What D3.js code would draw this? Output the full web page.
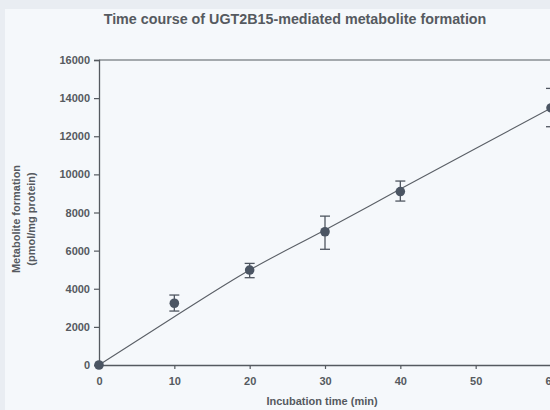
<!DOCTYPE html>
<html>
<head>
<meta charset="utf-8">
<script src="https://cdn.jsdelivr.net/npm/d3@7"></script>
<style>
html,body{margin:0;padding:0;background:#eef2f6;}
svg{display:block;}
</style>
</head>
<body>
<svg id="chart" width="550" height="410"></svg>
<script>
// Data
const times = [0, 10, 20, 30, 40, 60];
const meanValues = [0, 3240, 4980, 6990, 9100, 13490];
const errUpper = [0, 3670, 5330, 7810, 9650, 14510];
const errLower = [0, 2830, 4580, 6070, 8600, 12500];
const fitTimes = [0, 10, 20, 30, 40, 50, 60];
const fitValues = [0, 2530, 4980, 7080, 9230, 11360, 13480];
const xTicks = [0, 10, 20, 30, 40, 50, 60];
const yTicks = [0, 2000, 4000, 6000, 8000, 10000, 12000, 14000, 16000];
const titleText = "Time course of UGT2B15-mediated metabolite formation";
const xLabel = "Incubation time (min)";
const yLabel1 = "Metabolite formation";
const yLabel2 = "(pmol/mg protein)";

const svg = d3.select("#chart");
const W = 550, H = 410;
const font = "Arial, 'Liberation Sans', sans-serif";
const ink = "#555a60";

// background
svg.append("rect").attr("x",0).attr("y",0).attr("width",W).attr("height",H).attr("fill","#e9edf2");
svg.append("rect").attr("x",5).attr("y",9).attr("width",W-5).attr("height",H-9).attr("fill","#f5f8fb");

const x = d3.scaleLinear().domain([0,60]).range([99,551]);
const y = d3.scaleLinear().domain([0,16000]).range([365,60]);

// frame top
svg.append("line").attr("x1",x(0)).attr("x2",W).attr("y1",y(16000)).attr("y2",y(16000))
  .attr("stroke",ink).attr("stroke-width",1.2);

// axes
const yAxis = d3.axisLeft(y).tickValues(yTicks).tickSize(5).tickPadding(4).tickFormat(d3.format("d"));
const gy = svg.append("g").attr("transform",`translate(${x(0)},0)`).call(yAxis);
const xAxis = d3.axisBottom(x).tickValues(xTicks).tickSize(4).tickPadding(8).tickFormat(d3.format("d"));
const gx = svg.append("g").attr("transform",`translate(0,${y(0)})`).call(xAxis);
[gx, gy].forEach(g => {
  g.select(".domain").attr("stroke",ink).attr("stroke-width",1.3);
  g.selectAll(".tick line").attr("stroke",ink).attr("stroke-width",1.2);
  g.selectAll(".tick text").attr("fill",ink).attr("font-family",font)
    .attr("font-size","11px").attr("font-weight","bold");
});

// fit curve
const line = d3.line().x((d,i)=>x(fitTimes[i])).y(d=>y(d)).curve(d3.curveMonotoneX);
svg.append("path").datum(fitValues).attr("d",line).attr("fill","none")
  .attr("stroke","#5a5f66").attr("stroke-width",1.1);

// error bars
const eb = svg.append("g").attr("stroke","#4f5660").attr("stroke-width",1.3);
times.forEach((t,i) => {
  if (errUpper[i] === errLower[i]) return;
  const cx = x(t);
  eb.append("line").attr("x1",cx).attr("x2",cx).attr("y1",y(errUpper[i])).attr("y2",y(errLower[i]));
  eb.append("line").attr("x1",cx-5).attr("x2",cx+5).attr("y1",y(errUpper[i])).attr("y2",y(errUpper[i]));
  eb.append("line").attr("x1",cx-5).attr("x2",cx+5).attr("y1",y(errLower[i])).attr("y2",y(errLower[i]));
});

// points
svg.append("g").selectAll("circle").data(meanValues).join("circle")
  .attr("cx",(d,i)=>x(times[i])).attr("cy",d=>y(d)).attr("r",4.8)
  .attr("fill","#4b5563");

// title
svg.append("text").attr("x",295).attr("y",24).attr("text-anchor","middle")
  .attr("font-family",font).attr("font-size","14.3px").attr("font-weight","bold")
  .attr("fill",ink).text(titleText);

// x label
svg.append("text").attr("x",322).attr("y",405).attr("text-anchor","middle")
  .attr("font-family",font).attr("font-size","11px").attr("font-weight","bold")
  .attr("fill",ink).text(xLabel);

// y label
const yl = svg.append("text").attr("transform","translate(20,219) rotate(-90)")
  .attr("text-anchor","middle").attr("font-family",font).attr("font-size","11px")
  .attr("font-weight","bold").attr("fill",ink);
yl.append("tspan").attr("x",0).attr("dy",0).text(yLabel1);
yl.append("tspan").attr("x",0).attr("dy",15).text(yLabel2);
</script>
</body>
</html>
